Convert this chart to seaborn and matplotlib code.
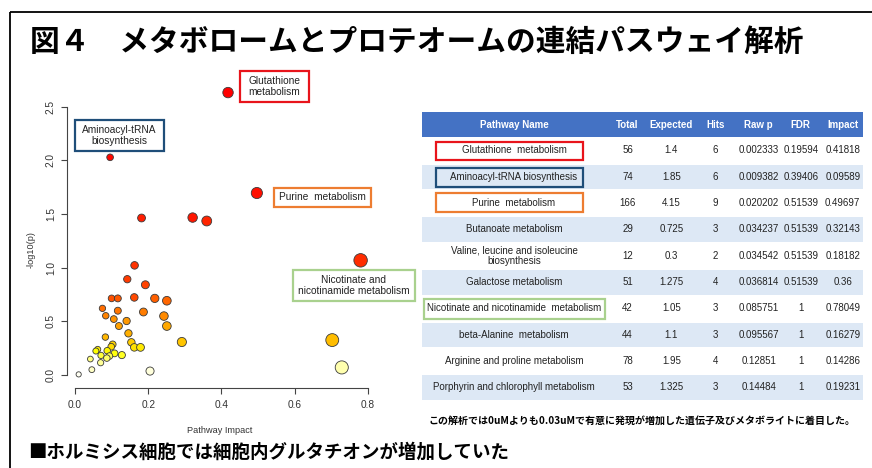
import numpy as np
import pandas as pd
import matplotlib
matplotlib.use("Agg")
import matplotlib.pyplot as plt
import seaborn as sns
from matplotlib.patches import Rectangle
from matplotlib.colors import hsv_to_rgb

# ---------------- data ----------------
pathway_impact = [0.41818, 0.09589, 0.49697, 0.32143, 0.18182, 0.36, 0.78049, 0.16279, 0.14286, 0.19231,
                  0.100, 0.117, 0.162, 0.218, 0.251, 0.075, 0.117, 0.187, 0.084, 0.243,
                  0.106, 0.141, 0.120, 0.251, 0.146, 0.083, 0.292, 0.703, 0.154, 0.103,
                  0.099, 0.162, 0.179, 0.062, 0.057, 0.088, 0.108, 0.128, 0.071, 0.094,
                  0.087, 0.042, 0.070, 0.729, 0.046, 0.205, 0.010]
neg_log10_p = [2.632, 2.028, 1.695, 1.466, 1.462, 1.434, 1.067, 1.020, 0.891, 0.839,
               0.712, 0.712, 0.721, 0.712, 0.690, 0.619, 0.597, 0.585, 0.550, 0.547,
               0.519, 0.501, 0.454, 0.454, 0.386, 0.351, 0.305, 0.323, 0.302, 0.283,
               0.261, 0.255, 0.255, 0.236, 0.221, 0.224, 0.199, 0.183, 0.180, 0.174,
               0.155, 0.146, 0.112, 0.068, 0.047, 0.034, 0.003]

table_columns = ["Pathway Name", "Total", "Expected", "Hits", "Raw p", "FDR", "Impact"]
pathway_names = ["Glutathione  metabolism", "Aminoacyl-tRNA biosynthesis", "Purine  metabolism",
                 "Butanoate metabolism", "Valine, leucine and isoleucine\nbiosynthesis",
                 "Galactose metabolism", "Nicotinate and nicotinamide  metabolism",
                 "beta-Alanine  metabolism", "Arginine and proline metabolism",
                 "Porphyrin and chlorophyll metabolism"]
totals = ["56", "74", "166", "29", "12", "51", "42", "44", "78", "53"]
expected = ["1.4", "1.85", "4.15", "0.725", "0.3", "1.275", "1.05", "1.1", "1.95", "1.325"]
hits = ["6", "6", "9", "3", "2", "4", "3", "3", "4", "3"]
raw_p = ["0.002333", "0.009382", "0.020202", "0.034237", "0.034542", "0.036814",
         "0.085751", "0.095567", "0.12851", "0.14484"]
fdr = ["0.19594", "0.39406", "0.51539", "0.51539", "0.51539", "0.51539", "1", "1", "1", "1"]
impact_col = ["0.41818", "0.09589", "0.49697", "0.32143", "0.18182", "0.36", "0.78049",
              "0.16279", "0.14286", "0.19231"]

title_text = "図４　メタボロームとプロテオームの連結パスウェイ解析"
note_text = "この解析では0uMよりも0.03uMで有意に発現が増加した遺伝子及びメタボライトに着目した。"
bottom_text = "■ホルミシス細胞では細胞内グルタチオンが増加していた"

# ---------------- style ----------------
sns.set_style("white")
plt.rcParams["font.family"] = ["Liberation Sans", "Noto Sans CJK JP", "DejaVu Sans"]
JP = ["Noto Sans CJK JP", "DejaVu Sans"]

W, H = 872, 468
fig = plt.figure(figsize=(W / 100, H / 100), dpi=100)


def heat_colors(n):
    j = n // 4
    i = n - j
    cols = [hsv_to_rgb((h, 1, 1)) for h in np.linspace(0, 1 / 6, i)]
    if j > 0:
        for s in np.linspace(1 - 1 / (2 * j), 1 / (2 * j), j):
            cols.append(hsv_to_rgb((1 / 6, s, 1)))
    return cols


# ---------------- scatter ----------------
ax = fig.add_axes([67.4 / W, 1 - 388 / H, (371.7 - 67.4) / W, (388 - 81) / H])
df = pd.DataFrame({"impact": pathway_impact, "logp": neg_log10_p})
n = len(df)
order = np.argsort(-df["logp"].values, kind="stable")
rank = np.empty(n, dtype=int)
rank[order] = np.arange(n)
df["rank"] = rank
pal = heat_colors(n)
sns.scatterplot(data=df, x="impact", y="logp", hue="rank",
                palette={r: pal[r] for r in range(n)},
                size="impact", sizes=(14, 94), size_norm=(0.01, 0.78),
                edgecolor="#3a3a3a", linewidth=0.6, legend=False, ax=ax, zorder=3)
ax.set_xlim(-0.0208, 0.8108)
ax.set_ylim(-0.124, 2.74)
for s in ["top", "right"]:
    ax.spines[s].set_visible(False)
ax.spines["left"].set_bounds(0, 2.5)
ax.spines["bottom"].set_bounds(0, 0.8)
for s in ["left", "bottom"]:
    ax.spines[s].set_color("#444444")
    ax.spines[s].set_linewidth(0.8)
ax.set_xticks([0, 0.2, 0.4, 0.6, 0.8])
ax.set_xticklabels(["0.0", "0.2", "0.4", "0.6", "0.8"])
ax.set_yticks([0, 0.5, 1.0, 1.5, 2.0, 2.5])
ax.set_yticklabels(["0.0", "0.5", "1.0", "1.5", "2.0", "2.5"], rotation=90, va="center")
ax.tick_params(bottom=True, left=True, direction="out", length=4.3, width=0.8,
               colors="#444444", labelsize=7.3, labelcolor="#333333", pad=4)
ax.set_xlabel("Pathway Impact", fontsize=6.6, color="#333333")
ax.set_ylabel("-log10(p)", fontsize=6.6, color="#333333")
ax.xaxis.set_label_coords(0.5, -0.137)
ax.xaxis.label.set_va("center")
ax.yaxis.set_label_coords(-0.1196, 0.45)
ax.yaxis.label.set_va("center")
ax.grid(False)

# ---------------- overlay ----------------
ov = fig.add_axes([0, 0, 1, 1])
ov.set_xlim(0, W)
ov.set_ylim(H, 0)
ov.axis("off")


def box(x0, y0, x1, y1, ec, lw=1.5, fc="none"):
    ov.add_patch(Rectangle((x0, y0), x1 - x0, y1 - y0, fc=fc, ec=ec, lw=lw, zorder=4))


# frame
ov.add_patch(Rectangle((10, 12), 900, 500, fill=False, ec="black", lw=1.3))

# title
ov.text(30, 42, title_text, fontsize=21.4, fontweight="bold", family=JP,
        ha="left", va="center", color="black")

# plot annotations
RED, BLUE, ORANGE, GREEN = "#E8141B", "#1F4E79", "#ED7D31", "#A9D18E"
ann = [((240, 70.7, 308.7, 101.7), RED, "Glutathione\nmetabolism"),
       ((75.3, 120.3, 163.7, 150.7), BLUE, "Aminoacyl-tRNA\nbiosynthesis"),
       ((274, 187.7, 370.7, 207), ORANGE, "Purine  metabolism"),
       ((292.7, 270.3, 414.7, 301), GREEN, "Nicotinate and\nnicotinamide metabolism")]
for (x0, y0, x1, y1), c, t in ann:
    box(x0, y0, x1, y1, c, lw=1.6, fc="white")
    ov.text((x0 + x1) / 2, (y0 + y1) / 2, t, fontsize=7.3, ha="center", va="center",
            color="#222222", linespacing=1.15, zorder=5)

# table
col_x = [514, 627.5, 671.3, 715.7, 758.7, 800.7, 842.7]
tx0, tx1 = 422, 863
ov.add_patch(Rectangle((tx0, 111.7), tx1 - tx0, 137.3 - 111.7, fc="#4472C4", ec="none"))
for cx, name in zip(col_x, table_columns):
    ov.text(cx, 125, name, fontsize=7, fontweight="bold", color="white", ha="center", va="center")
row_top = 137.3
pitch = 26.3
rows = list(zip(pathway_names, totals, expected, hits, raw_p, fdr, impact_col))
for i, vals in enumerate(rows):
    y0 = row_top + i * pitch
    if i % 2 == 1:
        ov.add_patch(Rectangle((tx0, y0 + 1.2), tx1 - tx0, pitch - 1.8, fc="#DDE8F5", ec="none"))
    yc = y0 + pitch / 2
    for cx, v in zip(col_x, vals):
        ov.text(cx, yc, v, fontsize=7, color="#222222", ha="center", va="center", linespacing=1.1)

tbox = [((435.7, 141.7, 583.3, 160), RED), ((435.7, 167.7, 583.3, 187), BLUE),
        ((435.7, 193.3, 583.3, 212.3), ORANGE), ((424.3, 299.3, 605, 319.3), GREEN)]
for (x0, y0, x1, y1), c in tbox:
    box(x0, y0, x1, y1, c, lw=1.6)

# notes
ov.text(428, 421, note_text, fontsize=7.2, fontweight="bold", family=JP,
        ha="left", va="center", color="black")
ov.text(28, 452, bottom_text, fontsize=13.3, fontweight="bold", family=JP,
        ha="left", va="center", color="black")

fig.savefig("out.png", dpi=100)
